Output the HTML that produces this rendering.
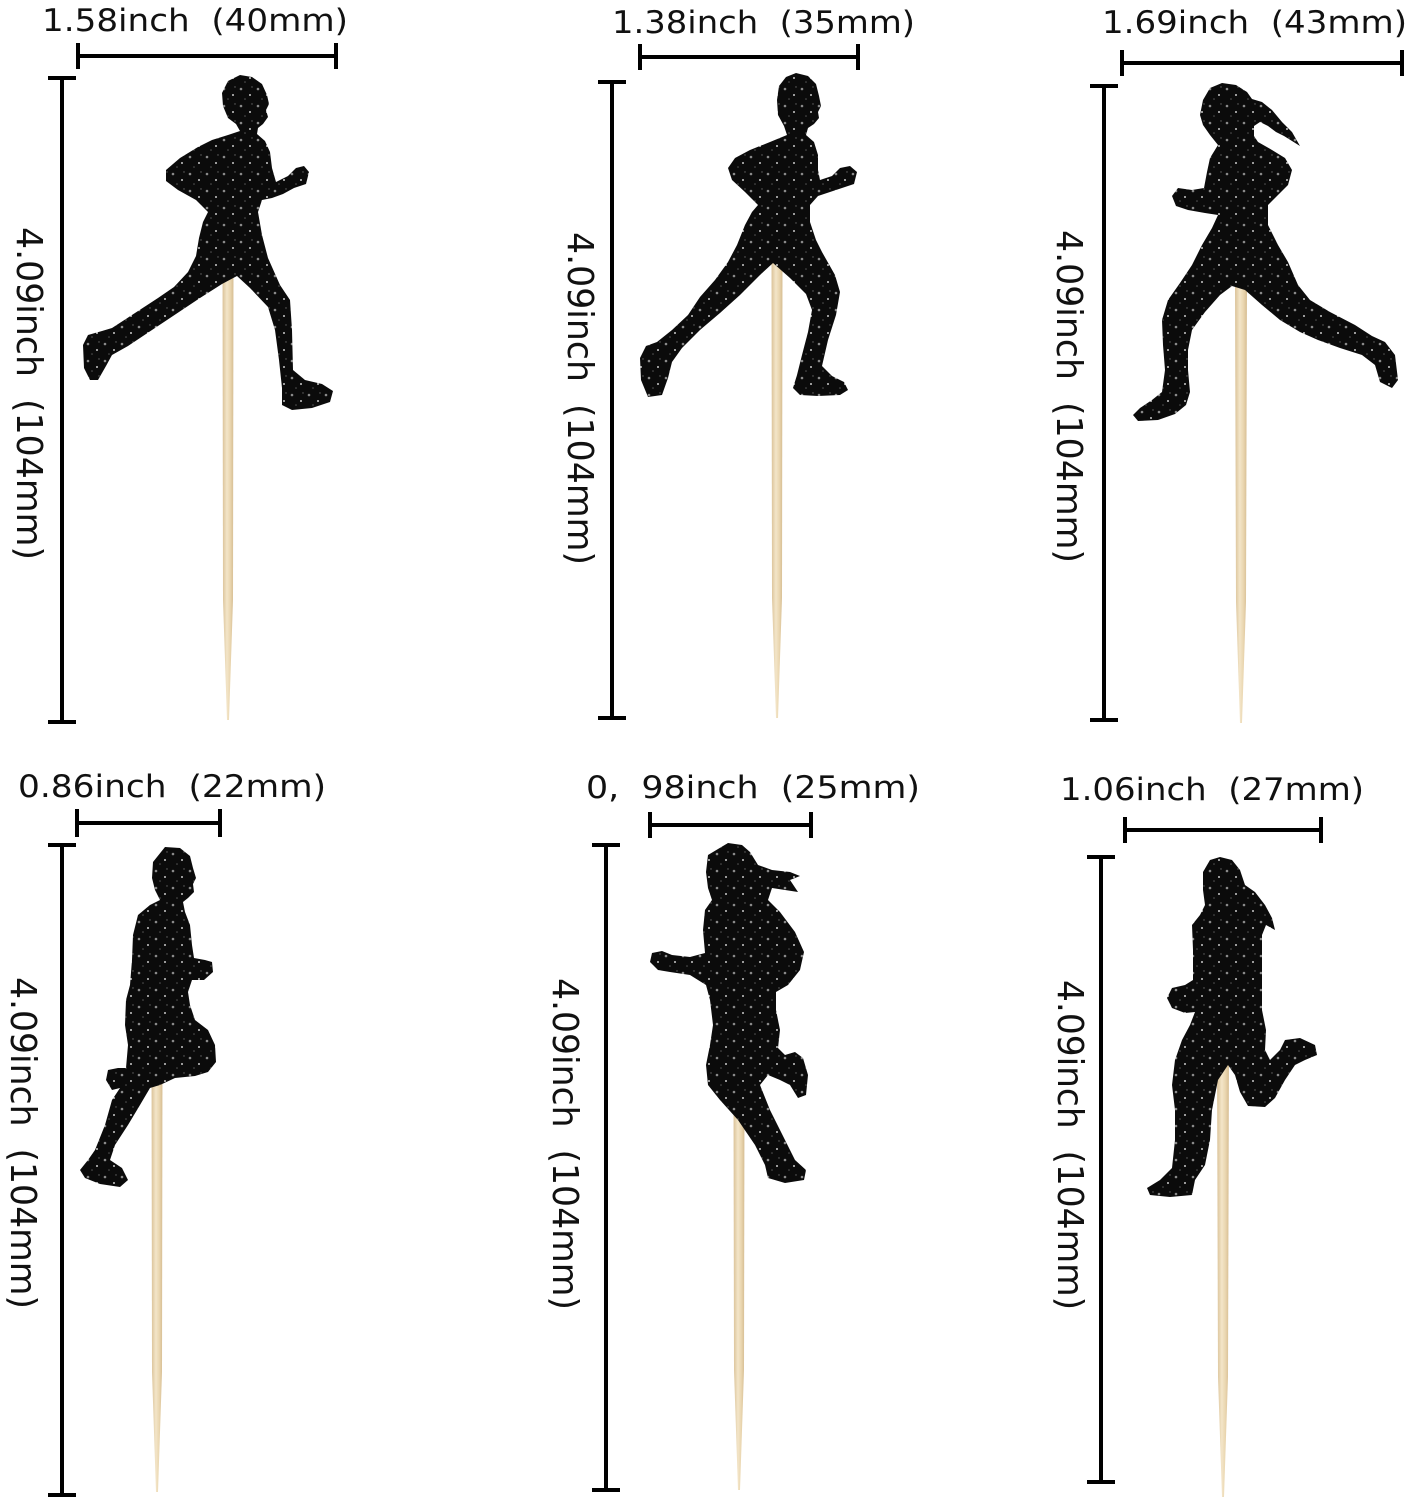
<!DOCTYPE html>
<html>
<head>
<meta charset="utf-8">
<style>
  html,body{margin:0;padding:0;background:#fff;}
  svg{display:block;}
  .t{font-family:"DejaVu Sans","Liberation Sans",sans-serif;fill:#111;}
</style>
</head>
<body>
<svg width="1409" height="1500" viewBox="0 0 1409 1500" xmlns="http://www.w3.org/2000/svg">
  <defs>
    <linearGradient id="wood" x1="0" y1="0" x2="1" y2="0">
      <stop offset="0" stop-color="#dac298"/>
      <stop offset="0.4" stop-color="#f3e5c8"/>
      <stop offset="0.7" stop-color="#ead6b0"/>
      <stop offset="1" stop-color="#d6bd92"/>
    </linearGradient>
    <pattern id="g" width="17" height="17" patternUnits="userSpaceOnUse">
      <rect width="17" height="17" fill="#0b0b0b"/>
      <circle cx="3" cy="4" r="1.3" fill="#8a8a8a"/>
      <circle cx="12" cy="10" r="1" fill="#c8c8c8"/>
      <circle cx="7" cy="14" r="0.8" fill="#555"/>
      <circle cx="14" cy="2" r="0.7" fill="#666"/>
    </pattern>
  </defs>
  <rect width="1409" height="1500" fill="#fff"/>

  <!-- sticks -->
  <g fill="url(#wood)">
    <polygon points="222.5,255 233.5,255 233,600 229,720 227,720 223,600"/>
    <polygon points="771.5,255 782.5,255 782,598 778,718 776,718 772,598"/>
    <polygon points="1235,280 1247,280 1246,602 1242,723 1240,723 1236,602"/>
    <polygon points="151.5,1045 162.5,1045 162,1372 158,1492 156,1492 152,1372"/>
    <polygon points="733.5,1090 744.5,1090 744,1370 740,1490 738,1490 734,1370"/>
    <polygon points="1217,1045 1229,1045 1228,1377 1224,1497 1222,1497 1218,1377"/>
  </g>

  <!-- runners -->
  <g fill="url(#g)">
    <!-- 1 -->
    <path d="M240,75 L252,77 L262,84 L267,95 L269,104 L266,110 L268,117 L263,124 L258,128 L257,134 L265,141 L270,152 L272,168 L276,182 L288,176 L296,168 L304,166 L309,172 L306,184 L294,188 L283,194 L272,198 L262,200 L258,212 L262,235 L268,258 L280,285 L290,300 L292,330 L293,370 L305,380 L322,384 L333,391 L330,402 L312,408 L292,410 L282,405 L282,388 L279,360 L275,330 L268,307 L250,288 L237,276 L222,284 L200,298 L176,314 L152,330 L128,346 L112,355 L106,366 L98,380 L90,380 L84,368 L83,345 L88,335 L102,331 L112,328 L135,313 L158,298 L174,287 L188,272 L196,256 L199,238 L203,222 L208,212 L196,200 L178,190 L166,181 L166,170 L180,158 L198,147 L212,140 L228,135 L240,131 L236,124 L228,118 L223,106 L222,93 L228,81 Z"/>
    <!-- 2 -->
    <path d="M796,73 L808,76 L816,84 L819,96 L821,106 L818,112 L819,118 L814,124 L808,128 L806,135 L814,142 L818,155 L818,170 L820,180 L832,176 L840,168 L850,166 L857,172 L854,184 L842,188 L830,192 L818,196 L810,205 L810,222 L816,240 L822,252 L835,275 L840,292 L836,315 L828,340 L822,366 L832,376 L844,382 L848,390 L840,395 L818,396 L800,395 L793,388 L797,375 L802,355 L808,332 L812,310 L806,294 L790,278 L773,263 L760,275 L740,295 L720,313 L700,330 L682,348 L672,362 L668,378 L662,395 L648,397 L641,380 L640,358 L646,346 L657,342 L672,330 L688,315 L700,297 L715,280 L728,262 L737,245 L745,225 L752,212 L758,205 L745,192 L732,180 L728,168 L735,158 L750,150 L770,142 L787,135 L784,126 L778,115 L777,100 L779,86 L786,77 Z"/>
    <!-- 3 -->
    <path d="M1222,83 L1236,85 L1247,92 L1252,99 L1262,102 L1272,110 L1282,122 L1292,132 L1300,146 L1292,141 L1284,136 L1276,132 L1268,126 L1260,122 L1254,126 L1254,136 L1258,142 L1272,150 L1285,158 L1292,170 L1288,185 L1278,195 L1268,205 L1268,225 L1278,245 L1288,262 L1298,285 L1310,300 L1330,312 L1355,325 L1372,336 L1385,342 L1395,355 L1398,380 L1392,388 L1380,382 L1375,365 L1362,355 L1340,348 L1318,340 L1300,332 L1280,320 L1262,305 L1245,290 L1232,286 L1220,295 L1205,312 L1192,330 L1188,350 L1188,370 L1190,392 L1186,405 L1175,414 L1158,420 L1138,421 L1133,415 L1140,408 L1152,400 L1162,392 L1165,370 L1163,345 L1162,320 L1168,300 L1180,283 L1192,265 L1202,245 L1212,228 L1218,215 L1205,213 L1188,210 L1176,206 L1172,196 L1178,188 L1192,190 L1204,188 L1207,172 L1210,158 L1218,145 L1210,135 L1203,125 L1200,115 L1203,100 L1210,88 Z"/>
    <!-- 4 -->
    <path d="M165,847 L180,848 L190,856 L193,868 L196,878 L193,884 L194,892 L188,898 L183,902 L185,912 L190,925 L192,945 L194,958 L205,960 L212,962 L213,972 L204,980 L192,980 L188,992 L190,1005 L195,1020 L208,1030 L215,1045 L216,1062 L208,1072 L195,1076 L175,1078 L160,1085 L150,1088 L140,1105 L128,1125 L115,1145 L110,1160 L122,1168 L128,1180 L120,1187 L100,1184 L85,1178 L80,1170 L88,1160 L95,1150 L105,1125 L112,1100 L120,1088 L112,1090 L106,1080 L108,1070 L118,1068 L126,1068 L128,1045 L125,1025 L126,1000 L130,985 L132,960 L133,935 L138,915 L150,905 L160,900 L155,890 L152,878 L153,862 Z"/>
    <!-- 5 -->
    <path d="M728,843 L742,845 L750,852 L758,865 L772,870 L790,872 L800,876 L790,880 L798,892 L785,890 L772,888 L768,900 L780,912 L795,932 L804,952 L800,970 L788,985 L776,992 L776,1010 L780,1030 L778,1048 L785,1055 L795,1052 L803,1058 L808,1075 L806,1095 L798,1098 L790,1085 L780,1080 L768,1075 L760,1085 L770,1110 L785,1140 L795,1160 L806,1170 L804,1180 L785,1183 L768,1178 L765,1165 L755,1145 L738,1120 L720,1100 L708,1085 L706,1065 L710,1045 L713,1025 L710,1000 L706,985 L690,975 L670,972 L658,970 L650,962 L652,953 L662,951 L672,955 L690,957 L705,953 L703,930 L705,910 L712,900 L708,888 L706,872 L708,855 Z"/>
    <!-- 6 -->
    <path d="M1220,857 L1232,860 L1240,870 L1245,885 L1255,892 L1265,905 L1272,918 L1275,930 L1266,925 L1262,935 L1262,960 L1262,990 L1262,1010 L1266,1030 L1265,1050 L1270,1060 L1280,1050 L1285,1040 L1300,1038 L1315,1045 L1317,1055 L1305,1060 L1295,1065 L1285,1080 L1275,1098 L1265,1107 L1248,1106 L1240,1092 L1235,1075 L1228,1065 L1218,1080 L1212,1110 L1210,1140 L1205,1165 L1195,1180 L1192,1195 L1170,1197 L1150,1195 L1147,1188 L1160,1180 L1172,1168 L1175,1140 L1175,1110 L1172,1085 L1175,1060 L1182,1040 L1190,1025 L1195,1012 L1185,1013 L1172,1008 L1167,998 L1172,988 L1185,985 L1193,980 L1193,950 L1192,925 L1200,915 L1205,905 L1203,890 L1203,872 L1210,860 Z"/>
  </g>

  <!-- dimension bars -->
  <g stroke="#000" stroke-width="4" fill="none">
    <line x1="78" y1="56" x2="336" y2="56"/>
    <line x1="78" y1="43" x2="78" y2="69"/>
    <line x1="336" y1="43" x2="336" y2="69"/>
    <line x1="62" y1="78" x2="62" y2="722"/>
    <line x1="48" y1="78" x2="76" y2="78"/>
    <line x1="48" y1="722" x2="76" y2="722"/>

    <line x1="640" y1="57" x2="858" y2="57"/>
    <line x1="640" y1="44" x2="640" y2="70"/>
    <line x1="858" y1="44" x2="858" y2="70"/>
    <line x1="612" y1="82" x2="612" y2="718"/>
    <line x1="598" y1="82" x2="626" y2="82"/>
    <line x1="598" y1="718" x2="626" y2="718"/>

    <line x1="1122" y1="63" x2="1402" y2="63"/>
    <line x1="1122" y1="50" x2="1122" y2="76"/>
    <line x1="1402" y1="50" x2="1402" y2="76"/>
    <line x1="1104" y1="86" x2="1104" y2="720"/>
    <line x1="1090" y1="86" x2="1118" y2="86"/>
    <line x1="1090" y1="720" x2="1118" y2="720"/>

    <line x1="77" y1="823" x2="220" y2="823"/>
    <line x1="77" y1="809" x2="77" y2="837"/>
    <line x1="220" y1="809" x2="220" y2="837"/>
    <line x1="62" y1="845" x2="62" y2="1495"/>
    <line x1="48" y1="845" x2="76" y2="845"/>
    <line x1="48" y1="1495" x2="76" y2="1495"/>

    <line x1="650" y1="825" x2="811" y2="825"/>
    <line x1="650" y1="812" x2="650" y2="838"/>
    <line x1="811" y1="812" x2="811" y2="838"/>
    <line x1="606" y1="845" x2="606" y2="1490"/>
    <line x1="592" y1="845" x2="620" y2="845"/>
    <line x1="592" y1="1490" x2="620" y2="1490"/>

    <line x1="1125" y1="830" x2="1321" y2="830"/>
    <line x1="1125" y1="817" x2="1125" y2="843"/>
    <line x1="1321" y1="817" x2="1321" y2="843"/>
    <line x1="1101" y1="857" x2="1101" y2="1482"/>
    <line x1="1087" y1="857" x2="1115" y2="857"/>
    <line x1="1087" y1="1482" x2="1115" y2="1482"/>
  </g>

  <!-- horizontal labels -->
  <g class="t" font-size="31">
    <text xml:space="preserve" x="42" y="31" textLength="306" lengthAdjust="spacingAndGlyphs">1.58inch&#160; (40mm)</text>
    <text xml:space="preserve" x="612" y="33" textLength="303" lengthAdjust="spacingAndGlyphs">1.38inch&#160; (35mm)</text>
    <text xml:space="preserve" x="1102" y="33" textLength="305" lengthAdjust="spacingAndGlyphs">1.69inch&#160; (43mm)</text>
    <text xml:space="preserve" x="18" y="797" textLength="308" lengthAdjust="spacingAndGlyphs">0.86inch&#160; (22mm)</text>
    <text xml:space="preserve" x="586" y="798" textLength="334" lengthAdjust="spacingAndGlyphs">0,&#160; 98inch&#160; (25mm)</text>
    <text xml:space="preserve" x="1060" y="800" textLength="304" lengthAdjust="spacingAndGlyphs">1.06inch&#160; (27mm)</text>
  </g>

  <!-- vertical labels -->
  <g class="t" font-size="36">
    <text xml:space="preserve" transform="translate(17,227) rotate(90)" x="0" y="0" textLength="333" lengthAdjust="spacingAndGlyphs">4.09inch&#160; (104mm)</text>
    <text xml:space="preserve" transform="translate(568,232) rotate(90)" x="0" y="0" textLength="333" lengthAdjust="spacingAndGlyphs">4.09inch&#160; (104mm)</text>
    <text xml:space="preserve" transform="translate(1057,230) rotate(90)" x="0" y="0" textLength="333" lengthAdjust="spacingAndGlyphs">4.09inch&#160; (104mm)</text>
    <text xml:space="preserve" transform="translate(11,977) rotate(90)" x="0" y="0" textLength="332" lengthAdjust="spacingAndGlyphs">4.09inch&#160; (104mm)</text>
    <text xml:space="preserve" transform="translate(553,978) rotate(90)" x="0" y="0" textLength="332" lengthAdjust="spacingAndGlyphs">4.09inch&#160; (104mm)</text>
    <text xml:space="preserve" transform="translate(1058,980) rotate(90)" x="0" y="0" textLength="330" lengthAdjust="spacingAndGlyphs">4.09inch&#160; (104mm)</text>
  </g>
</svg>
</body>
</html>
